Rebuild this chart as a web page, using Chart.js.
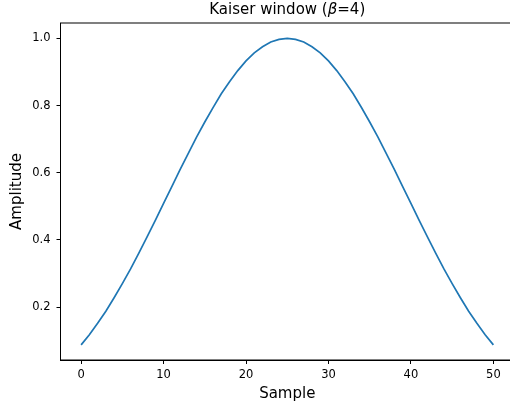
<!DOCTYPE html>
<html>
<head>
<meta charset="utf-8">
<script src="https://cdn.jsdelivr.net/npm/chart.js@4/dist/chart.umd.min.js"></script>
<style>
  html, body { margin: 0; padding: 0; background: #fff; overflow: hidden; }
  #kaiserChart { display: block; }
</style>
</head>
<body>
<canvas id="kaiserChart" width="514" height="407"></canvas>
<script>
// Sample index 0..50
const samples = [
    0, 1, 2, 3, 4, 5, 6, 7, 8, 9,
    10, 11, 12, 13, 14, 15, 16, 17, 18, 19,
    20, 21, 22, 23, 24, 25, 26, 27, 28, 29,
    30, 31, 32, 33, 34, 35, 36, 37, 38, 39,
    40, 41, 42, 43, 44, 45, 46, 47, 48, 49, 50
]

// Window amplitude
const amplitude = [
    0.088, 0.118, 0.152, 0.188, 0.228, 0.270, 0.314, 0.361, 0.409, 0.458,
    0.509, 0.559, 0.609, 0.658, 0.706, 0.751, 0.794, 0.835, 0.871, 0.904,
    0.933, 0.957, 0.975, 0.989, 0.997, 1.000, 0.997, 0.989, 0.975, 0.957,
    0.933, 0.904, 0.871, 0.835, 0.794, 0.751, 0.706, 0.658, 0.609, 0.559,
    0.509, 0.458, 0.409, 0.361, 0.314, 0.270, 0.228, 0.188, 0.152, 0.118, 0.088
]

const xTicks = [0, 10, 20, 30, 40, 50]
const yTicks = [0.2, 0.4, 0.6, 0.8, 1.0]

const FONT = 'DejaVu Sans'

// Title with italic beta, plus the frame (top/right spines)
const titleAndFrame = {
    id: 'titleAndFrame',
    afterDraw(chart) {
        const { ctx, chartArea } = chart
        ctx.save()
        ctx.strokeStyle = '#000'
        ctx.lineWidth = 1
        ctx.strokeRect(chartArea.left, chartArea.top, chartArea.right - chartArea.left, chartArea.bottom - chartArea.top)

        const parts = [
            { text: 'Kaiser window (', font: `15px "${FONT}"` },
            { text: 'β', font: `italic 15px "${FONT}"` },
            { text: '=4)', font: `15px "${FONT}"` }
        ]
        let total = 0
        parts.forEach(p => {
            ctx.font = p.font
            p.w = ctx.measureText(p.text).width
            total += p.w
        })
        let x = (chartArea.left + chartArea.right) / 2 - total / 2
        ctx.fillStyle = '#000'
        ctx.textBaseline = 'middle'
        ctx.textAlign = 'left'
        parts.forEach(p => {
            ctx.font = p.font
            ctx.fillText(p.text, x, 10)
            x += p.w
        })
        ctx.restore()
    }
}

const ctx = document.getElementById('kaiserChart').getContext('2d')
new Chart(ctx, {
    type: 'line',
    data: {
        datasets: [{
            data: samples.map((s, i) => ({ x: s, y: amplitude[i] })),
            borderColor: '#1f77b4',
            borderWidth: 1.7,
            pointRadius: 0,
            tension: 0,
            fill: false
        }]
    },
    options: {
        responsive: false,
        animation: false,
        layout: { padding: { top: 23, left: 0, right: 0, bottom: 0 } },
        plugins: {
            legend: { display: false },
            title: { display: false },
            tooltip: { enabled: false }
        },
        scales: {
            x: {
                type: 'linear',
                min: -2.5,
                max: 52.5,
                afterFit: scale => { scale.height = 47 },
                afterBuildTicks: scale => { scale.ticks = xTicks.map(v => ({ value: v })) },
                grid: { drawOnChartArea: false, drawTicks: true, tickLength: 4, color: '#000' },
                border: { display: true, color: '#000', width: 1 },
                ticks: {
                    color: '#000',
                    font: { family: FONT, size: 11.5 },
                    padding: 4,
                    maxRotation: 0,
                    callback: v => String(v)
                },
                title: {
                    display: true,
                    text: 'Sample',
                    color: '#000',
                    font: { family: FONT, size: 15 },
                    padding: { top: 0, bottom: 4 }
                }
            },
            y: {
                type: 'linear',
                min: 0.0429,
                max: 1.0456,
                afterFit: scale => { scale.width = 60.5 },
                afterBuildTicks: scale => { scale.ticks = yTicks.map(v => ({ value: v })) },
                grid: { drawOnChartArea: false, drawTicks: true, tickLength: 4, color: '#000' },
                border: { display: true, color: '#000', width: 1 },
                ticks: {
                    color: '#000',
                    font: { family: FONT, size: 11.5 },
                    padding: 6,
                    callback: v => v.toFixed(1)
                },
                title: {
                    display: true,
                    text: 'Amplitude',
                    color: '#000',
                    font: { family: FONT, size: 15 },
                    padding: { top: 8, bottom: 0 }
                }
            }
        }
    },
    plugins: [titleAndFrame]
})
</script>
</body>
</html>
